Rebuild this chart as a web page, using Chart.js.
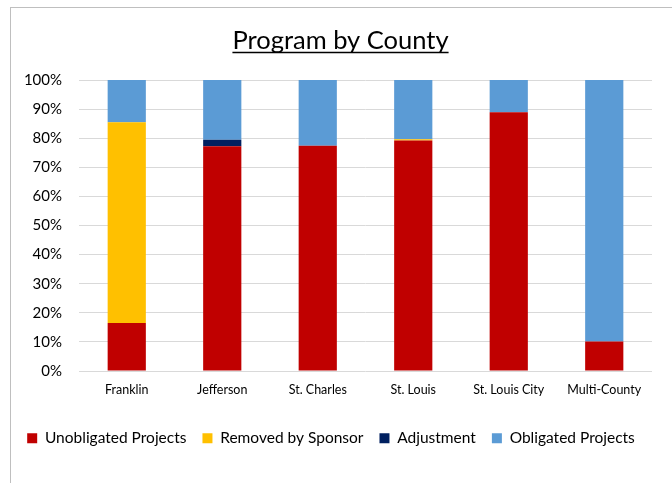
<!DOCTYPE html>
<html>
<head>
<meta charset="utf-8">
<script src="https://cdn.jsdelivr.net/npm/chart.js@4"></script>
<style>
  html, body { margin: 0; padding: 0; background: #fff; }
  #wrap { position: relative; width: 672px; height: 483px; }
</style>
</head>
<body>
<div id="wrap"><canvas id="myChart" width="672" height="483"></canvas></div>
<script>
// counties along the x axis
var counties = ["Franklin", "Jefferson", "St. Charles", "St. Louis", "St. Louis City", "Multi-County"];

// share of each county's program, in percent
var unobligated = [16.5, 77.2, 77.4, 79.2, 88.9, 10.1];
var removedBySponsor = [69.0, 0, 0, 0.4, 0, 0];
var adjustment = [0, 2.3, 0, 0, 0, 0];
var obligated = [14.5, 20.5, 22.6, 20.4, 11.1, 89.9];

var yTicks = [0, 10, 20, 30, 40, 50, 60, 70, 80, 90, 100];

var titleText = 'Program by County';
var fontFamily = "Lato, 'Open Sans', sans-serif";

// outer frame + underlined title (excel look)
var framePlugin = {
    id: 'frame',
    beforeDraw: function(chart) {
        var c = chart.ctx;
        c.save();
        c.strokeStyle = '#bfbfbf';
        c.lineWidth = 1;
        c.strokeRect(10.5, 7.5, 700, 500);
        c.restore();
    },
    afterDraw: function(chart) {
        var c = chart.ctx;
        c.save();
        c.font = '25.5px ' + fontFamily;
        c.fillStyle = '#000';
        c.textAlign = 'center';
        c.textBaseline = 'alphabetic';
        var cx = 340.5;
        c.fillText(titleText, cx, 49);
        var w = c.measureText(titleText).width;
        c.strokeStyle = '#000';
        c.lineWidth = 1.6;
        c.beginPath();
        c.moveTo(cx - w / 2, 52.5);
        c.lineTo(cx + w / 2, 52.5);
        c.stroke();
        c.restore();
    }
};

var ctx = document.getElementById('myChart').getContext('2d');
var chart = new Chart(ctx, {
    type: 'bar',
    data: {
        labels: counties,
        datasets: [
            { label: 'Unobligated Projects', data: unobligated, backgroundColor: '#c00000' },
            { label: 'Removed by Sponsor', data: removedBySponsor, backgroundColor: '#ffc000' },
            { label: 'Adjustment', data: adjustment, backgroundColor: '#002060' },
            { label: 'Obligated Projects', data: obligated, backgroundColor: '#5b9bd5' }
        ]
    },
    options: {
        responsive: false,
        animation: false,
        layout: { padding: { left: 10, right: 20, top: 80, bottom: 27 } },
        datasets: {
            bar: { barPercentage: 0.4, categoryPercentage: 1.0 }
        },
        plugins: {
            title: { display: false },
            legend: {
                position: 'bottom',
                labels: {
                    color: '#000',
                    font: { family: fontFamily, size: 15.5 },
                    boxWidth: 10,
                    boxHeight: 10,
                    padding: 16
                }
            },
            tooltip: { enabled: false }
        },
        scales: {
            x: {
                stacked: true,
                afterFit: function(scale) { scale.height = 43.5; },
                grid: { display: false, drawTicks: false },
                border: { display: false },
                ticks: { color: '#000', font: { family: fontFamily, size: 12.5 }, padding: 11 }
            },
            y: {
                stacked: true,
                min: 0,
                max: 100,
                afterFit: function(scale) { scale.width = 69; },
                afterBuildTicks: function(scale) {
                    scale.ticks = yTicks.map(function(v) { return { value: v }; });
                },
                grid: { color: '#d9d9d9', lineWidth: 1, drawTicks: false },
                border: { display: false },
                ticks: {
                    color: '#000',
                    font: { family: fontFamily, size: 15 },
                    padding: 17,
                    callback: function(v) { return v + '%'; }
                }
            }
        }
    },
    plugins: [framePlugin]
});
</script>
</body>
</html>
